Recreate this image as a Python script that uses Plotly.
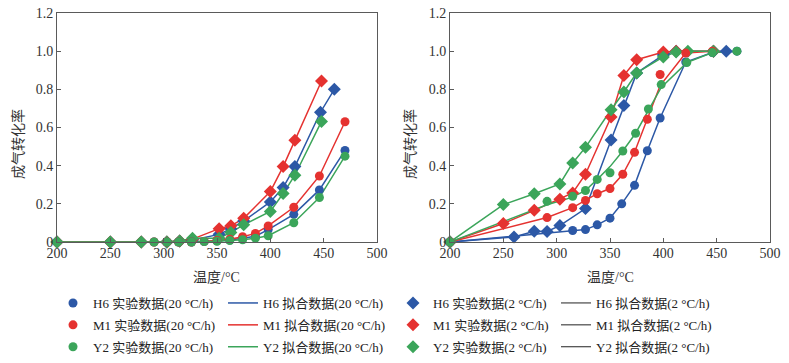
import plotly.graph_objects as go

# ---------------- data: left panel ----------------
LA_T_D = [200, 250, 279, 303, 315, 327, 352, 363, 375, 400, 412, 423, 448]
LA_T_D_H6 = [200, 250, 279, 303, 315, 327, 352, 363, 375, 400, 412, 423, 447, 460]
LA_H6_D = [0, 0, 0, 0, 0.005, 0.01, 0.04, 0.07, 0.11, 0.21, 0.285, 0.395, 0.68, 0.80]
LA_M1_D = [0, 0, 0, 0, 0.005, 0.015, 0.07, 0.085, 0.124, 0.264, 0.395, 0.533, 0.844]
LA_Y2_D = [0, 0, 0, 0, 0.005, 0.02, 0.02, 0.05, 0.09, 0.16, 0.254, 0.35, 0.632]

LA_T_C = [291, 303, 314, 326, 338, 350, 362, 374, 386, 398, 422, 446, 470]
LA_M1_C = [0, 0, 0, 0, 0.003, 0.008, 0.015, 0.028, 0.045, 0.084, 0.182, 0.346, 0.63]
LA_H6_C = [0, 0, 0, 0, 0.002, 0.006, 0.01, 0.02, 0.03, 0.065, 0.145, 0.273, 0.48]
LA_Y2_C = [0, 0, 0, 0, 0.002, 0.004, 0.008, 0.012, 0.02, 0.033, 0.101, 0.233, 0.45]

# ---------------- data: right panel ----------------
RB_H6_C_T = [200, 315, 327, 338, 350, 361, 373, 385, 397, 421, 446, 469]
RB_H6_C = [0, 0.06, 0.065, 0.09, 0.125, 0.20, 0.297, 0.478, 0.65, 0.943, 0.993, 1.0]

RB_M1_C_T = [200, 291, 315, 327, 338, 350, 362, 373, 385, 397, 421, 446]
RB_M1_C = [0, 0.128, 0.18, 0.218, 0.253, 0.28, 0.355, 0.47, 0.643, 0.878, 0.99, 1.0]
RB_M1_C_FIT = [0, 0.128, 0.18, 0.218, 0.253, 0.28, 0.355, 0.47, 0.643, 0.82, 0.99, 1.0]

RB_Y2_C_T = [200, 291, 315, 327, 338, 350, 362, 374, 386, 398, 422, 446, 469]
RB_Y2_C = [0, 0.213, 0.24, 0.27, 0.328, 0.363, 0.477, 0.57, 0.697, 0.825, 0.94, 0.993, 1.0]
RB_Y2_C_FIT = [0, 0.195, 0.235, 0.27, 0.328, 0.395, 0.477, 0.57, 0.69, 0.81, 0.94, 0.993, 1.0]

RB_H6_D_T = [200, 260, 279, 291, 303, 327, 351, 363, 375, 400, 412, 447, 459]
RB_H6_D = [0, 0.026, 0.056, 0.055, 0.086, 0.175, 0.535, 0.715, 0.885, 0.98, 1.0, 1.0, 1.0]

RB_M1_D_T = [200, 250, 279, 303, 315, 327, 351, 363, 375, 400, 412, 447]
RB_M1_D = [0, 0.097, 0.166, 0.224, 0.257, 0.355, 0.655, 0.873, 0.955, 0.996, 1.0, 1.0]

RB_Y2_D_T = [200, 250, 279, 303, 315, 327, 351, 363, 375, 400, 412, 423, 447]
RB_Y2_D = [0, 0.196, 0.253, 0.304, 0.414, 0.496, 0.693, 0.786, 0.886, 0.97, 0.995, 1.0, 1.0]

X_TICKS = [200, 250, 300, 350, 400, 450, 500]
Y_TICKS = [0, 0.2, 0.4, 0.6, 0.8, 1.0, 1.2]
Y_TICK_TEXT = ["0", "0.2", "0.4", "0.6", "0.8", "1.0", "1.2"]

NAMES = ["H6", "M1", "Y2"]

BLUE = "#2c58a6"
RED = "#e53230"
GREEN = "#3ba55a"
COLORS = [BLUE, RED, GREEN]

FONT = "Liberation Serif, 'Noto Sans CJK SC', serif"

# page body has an 8 px margin: the figure is sized / positioned to compensate
OFF = 8
W, H = 789 - OFF, 363 - OFF


def fx(p):
    return (p - OFF) / W


def fy(p):
    return (H - (p - OFF)) / H


fig = go.Figure()


def line(x, y, color, xa, ya, name=None, legend=None, show=False, group=None):
    fig.add_trace(go.Scatter(
        x=x, y=y, mode="lines", xaxis=xa, yaxis=ya,
        line=dict(color=color, width=1.5),
        name=name, showlegend=show, legend=legend, legendgroup=group,
        cliponaxis=False, hoverinfo="skip"))


def marks(x, y, color, symbol, size, xa, ya, name=None, legend=None, show=False,
          group=None):
    fig.add_trace(go.Scatter(
        x=x, y=y, mode="markers", xaxis=xa, yaxis=ya,
        marker=dict(color=color, symbol=symbol, size=size, line=dict(width=0)),
        name=name, showlegend=show, legend=legend, legendgroup=group,
        cliponaxis=False))


# left panel lines
left_c = [LA_H6_C, LA_M1_C, LA_Y2_C]
left_d = [(LA_T_D_H6, LA_H6_D), (LA_T_D, LA_M1_D), (LA_T_D, LA_Y2_D)]
for i in range(3):
    line(LA_T_C, left_c[i], COLORS[i], "x", "y",
         name=f"{NAMES[i]} 拟合数据(20 °C/h)", legend="legend2", show=True,
         group=f"fit20_{i}")
    line(left_d[i][0], left_d[i][1], COLORS[i], "x", "y")

# right panel lines
right_c = [(RB_H6_C_T, RB_H6_C), (RB_M1_C_T, RB_M1_C_FIT), (RB_Y2_C_T, RB_Y2_C_FIT)]
right_d = [(RB_H6_D_T, RB_H6_D), (RB_M1_D_T, RB_M1_D), (RB_Y2_D_T, RB_Y2_D)]
for i in range(3):
    line(right_c[i][0], right_c[i][1], COLORS[i], "x2", "y2")
    line(right_d[i][0], right_d[i][1], COLORS[i], "x2", "y2")

# left panel markers
for i in range(3):
    marks(left_d[i][0], left_d[i][1], COLORS[i], "diamond", 10, "x", "y",
          name=f"{NAMES[i]} 实验数据(2 °C/h)", legend="legend3", show=True,
          group=f"exp2_{i}")
for i in range(3):
    marks(LA_T_C, left_c[i], COLORS[i], "circle", 9, "x", "y",
          name=f"{NAMES[i]} 实验数据(20 °C/h)", legend="legend", show=True,
          group=f"exp20_{i}")

# right panel markers
right_c_exp = [(RB_H6_C_T, RB_H6_C), (RB_M1_C_T, RB_M1_C), (RB_Y2_C_T, RB_Y2_C)]
for i in range(3):
    marks(right_d[i][0], right_d[i][1], COLORS[i], "diamond", 10, "x2", "y2")
for i in range(3):
    marks(right_c_exp[i][0], right_c_exp[i][1], COLORS[i], "circle", 9, "x2", "y2")

# legend-only entries for the 2 °C/h fitted lines (drawn black in the legend)
for i in range(3):
    fig.add_trace(go.Scatter(
        x=[None], y=[None], mode="lines", xaxis="x2", yaxis="y2",
        line=dict(color="#222222", width=1),
        name=f"{NAMES[i]} 拟合数据(2 °C/h)", legend="legend4", showlegend=True,
        legendgroup=f"fit2_{i}"))

axis_common = dict(
    showline=True, linecolor="#5a5a5a", linewidth=1, mirror=True,
    ticks="inside", ticklen=4, tickcolor="#5a5a5a",
    showgrid=False, zeroline=False, automargin=False,
    ticklabeloverflow="allow",
    tickfont=dict(family=FONT, size=14, color="#333333"),
)

Y_DOM = [fy(242), fy(13)]
fig.update_layout(
    width=W, height=H,
    margin=dict(l=0, r=0, t=0, b=0, autoexpand=False),
    paper_bgcolor="white", plot_bgcolor="white",
    xaxis=dict(domain=[fx(57), fx(377)], range=[200, 500], tickvals=X_TICKS,
               anchor="y", ticklabelstandoff=-2, **axis_common),
    yaxis=dict(domain=Y_DOM, range=[0, 1.2], tickvals=Y_TICKS, ticktext=Y_TICK_TEXT,
               anchor="x", **axis_common),
    xaxis2=dict(domain=[fx(450), fx(770)], range=[200, 500], tickvals=X_TICKS,
                anchor="y2", ticklabelstandoff=-2, **axis_common),
    yaxis2=dict(domain=Y_DOM, range=[0, 1.2], tickvals=Y_TICKS, ticktext=Y_TICK_TEXT,
                anchor="x2", **axis_common),
)

leg_common = dict(
    font=dict(family=FONT, size=13, color="#222222"),
    bgcolor="rgba(0,0,0,0)", borderwidth=0,
    orientation="v", yanchor="top", xanchor="left",
    traceorder="grouped", tracegroupgap=2,
    itemclick=False, itemdoubleclick=False,
)
LEG_Y = fy(288)
fig.update_layout(
    legend=dict(x=fx(53), y=LEG_Y, **leg_common),
    legend2=dict(x=fx(223), y=LEG_Y, **leg_common),
    legend3=dict(x=fx(393), y=LEG_Y, **leg_common),
    legend4=dict(x=fx(556), y=LEG_Y, **leg_common),
)

title_font = dict(family=FONT, size=14, color="#333333")
ann = []
for cx in [217, 610]:
    ann.append(dict(text="温度/°C", x=fx(cx), y=fy(277), xref="paper",
                    yref="paper", showarrow=False, font=title_font,
                    xanchor="center", yanchor="middle"))
for cx in [18, 410]:
    ann.append(dict(text="成气转化率", x=fx(cx), y=fy(144), xref="paper",
                    yref="paper", showarrow=False, font=title_font, textangle=-90,
                    xanchor="center", yanchor="middle"))
fig.update_layout(annotations=ann)

fig.write_html("out.html")
